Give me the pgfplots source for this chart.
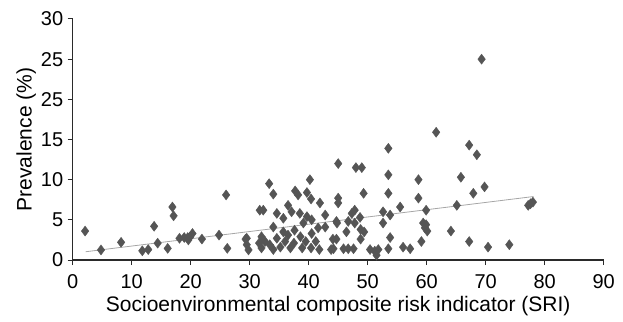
\documentclass[border=0pt]{standalone}
\usepackage{pgfplots}
\pgfplotsset{compat=1.18}
\usepackage{fontspec}
\setmainfont{Liberation Sans}
\definecolor{mk}{HTML}{555555}
\definecolor{ax}{HTML}{2A2A2A}
\begin{document}
\begin{tikzpicture}
\begin{axis}[
  scale only axis, width=531pt, height=241pt,
  xmin=0, xmax=90, ymin=0, ymax=30,
  axis lines=left, axis line style={-, ax, line width=1.3pt},
  xtick={0,10,...,90}, ytick={0,5,...,30},
  yticklabels={0,5,10,15,25,25,30},
  tick style={ax, line width=1pt}, tick align=outside, major tick length=5pt,
  every tick label/.append style={font=\fontsize{20}{22}\selectfont},
  xticklabel style={yshift=-6pt},
  yticklabel style={xshift=-1pt},
  /pgf/number format/assume math mode=true,
  label style={font=\fontsize{21}{24}\selectfont},
  xlabel={Socioenvironmental composite risk indicator (SRI)},
  ylabel={Prevalence (\%)},
  xlabel style={yshift=-1pt},
  ylabel style={yshift=-2pt},
  clip=false,
]
\addplot[only marks, mark=diamond*, mark size=5pt, mk, mark options={fill=mk, draw=mk}] coordinates {
(2.1,3.6) (4.8,1.25) (8.2,2.2) (11.8,1.15) (12.8,1.3) (13.8,4.2) (14.4,2.1) (16.1,1.45)
(16.9,6.6) (17.1,5.5) (18.1,2.7) (18.9,2.8) (19.6,2.5) (19.5,2.8) (20.3,3.3) (19.9,2.9)
(21.9,2.6) (24.8,3.1) (26.0,8.1) (26.2,1.45) (29.3,2.6) (29.5,1.9) (29.8,1.25) (31.6,2.1) (31.7,6.2)
(33.3,9.5) (34.0,8.2) (32.3,6.2) (40.2,10.0) (37.7,8.6) (38.2,8.1) (39.7,8.4) (40.4,7.6)
(41.9,7.1) (36.5,6.8) (37.1,6.0) (34.6,5.8) (35.7,5.2) (38.5,5.8) (39.7,5.4) (39.1,4.6)
(40.5,5.0) (42.8,5.6) (42.8,4.1) (34.0,4.1) (35.7,3.5) (36.5,3.1) (37.6,3.7) (40.5,3.3)
(41.6,4.0) (29.5,2.7) (32.0,2.9) (32.6,2.3) (32.0,1.5) (33.4,1.9) (34.6,2.7) (34.0,1.3)
(35.2,1.6) (36.0,2.3) (36.9,1.5) (37.5,2.1) (38.6,2.9) (38.9,1.5) (39.5,2.3) (40.4,1.5)
(41.2,2.3) (41.8,1.3) (43.8,1.3) (44.1,2.6) (44.8,4.6)
(45.0,12.0) (48.0,11.5) (49.0,11.5) (49.3,8.3) (45.0,7.7) (45.0,7.1) (53.5,13.9) (53.5,10.6)
(53.5,8.3) (58.6,10.0) (58.6,7.7) (55.5,6.6) (52.6,6.0) (53.8,5.6) (52.6,4.6) (47.8,6.2)
(47.3,5.8) (48.7,5.3) (44.7,4.8) (46.7,4.8) (47.8,4.6) (46.4,3.5) (48.8,3.8) (49.4,3.5)
(44.7,2.6) (48.8,2.6) (53.8,2.8) (59.4,4.6) (59.7,4.0) (59.1,2.3) (44.2,1.4) (45.9,1.4)
(46.7,1.4) (47.6,1.4) (50.4,1.3) (51.2,1.1) (51.8,1.3) (51.5,0.6) (53.5,1.4) (56.0,1.6) (57.2,1.4)
(61.6,15.9) (67.2,14.3) (68.5,13.1) (65.8,10.3) (67.9,8.3) (69.8,9.1) (65.1,6.8) (59.9,6.2)
(59.9,4.4) (60.1,3.6) (64.1,3.6) (67.2,2.3) (70.4,1.6) (74.0,1.9) (77.2,6.8) (77.6,7.0) (78.0,7.2)
(69.3,25.0)
};
\addplot[color=black!35, line width=0.8pt] coordinates {(2.2,1.03) (78.1,7.9)};
\end{axis}
\pgfresetboundingbox
\useasboundingbox (-72.7pt,-61pt) rectangle (550.3pt,260pt);
\end{tikzpicture}
\end{document}
